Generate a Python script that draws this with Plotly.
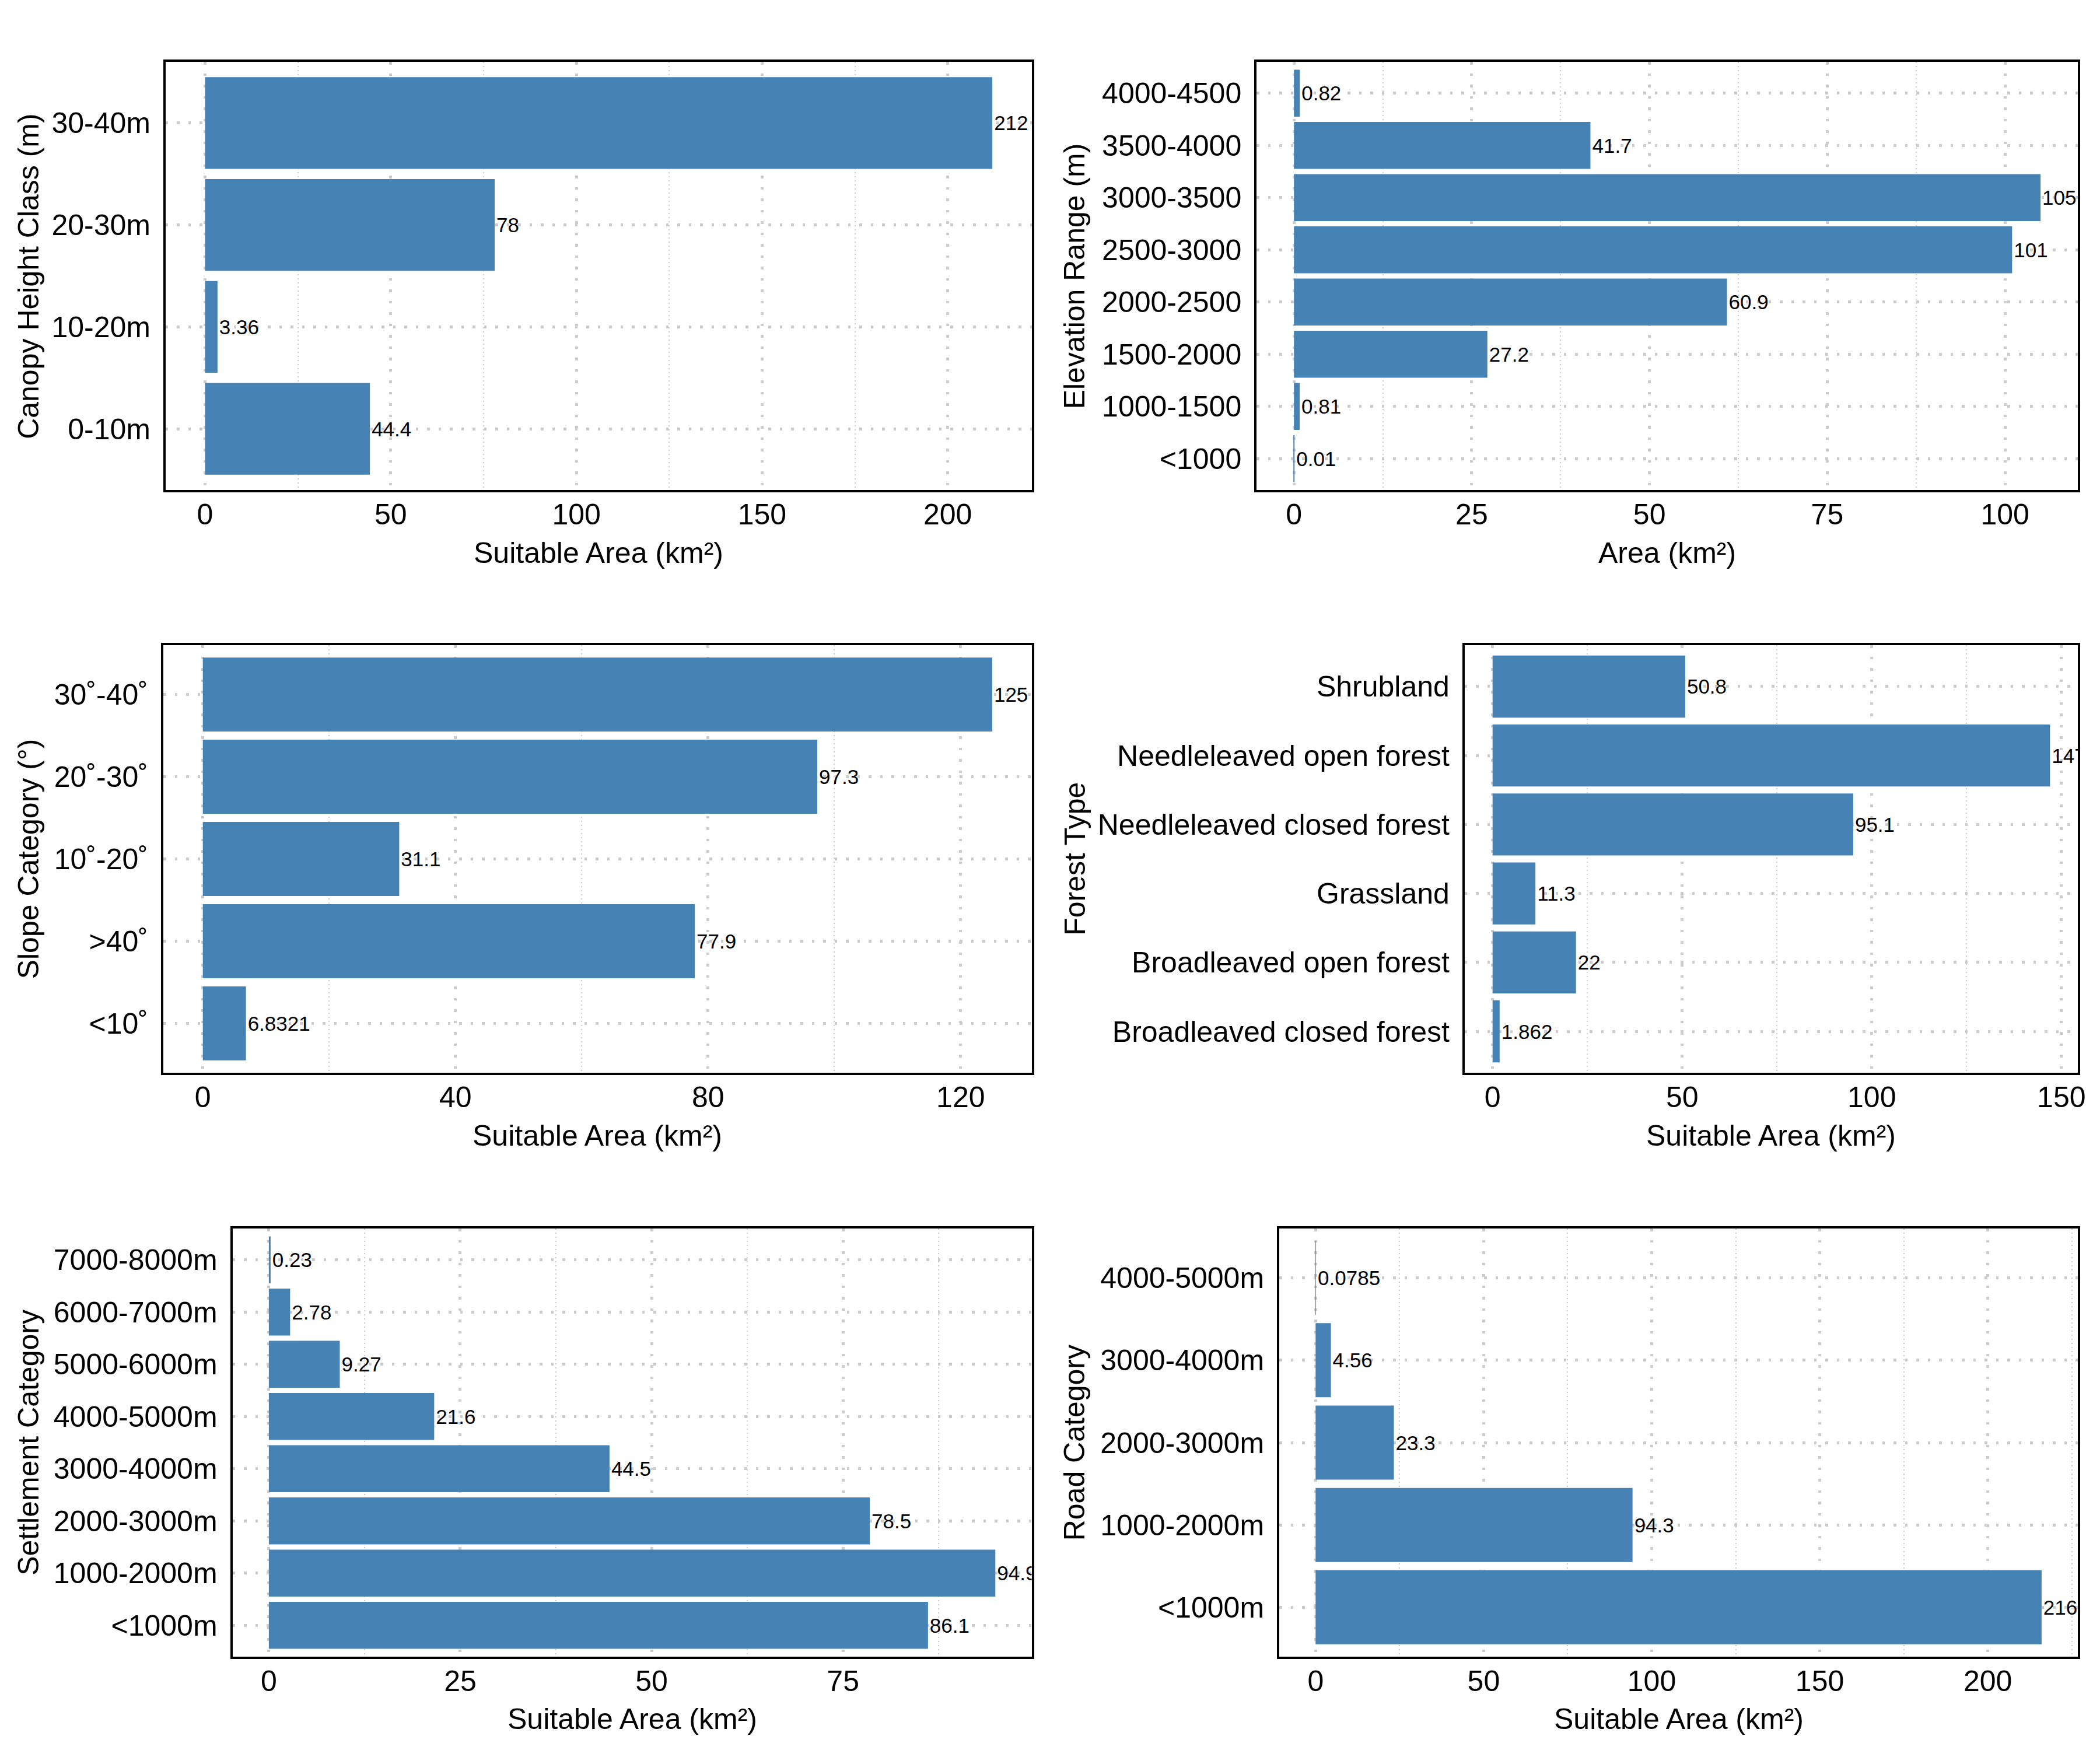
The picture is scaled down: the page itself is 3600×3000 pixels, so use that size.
import plotly.graph_objects as go

# ---------------- data ----------------
canopy_cats = ["0-10m", "10-20m", "20-30m", "30-40m"]
canopy_vals = [44.4, 3.36, 78, 212]

elev_cats = ["<1000", "1000-1500", "1500-2000", "2000-2500", "2500-3000",
             "3000-3500", "3500-4000", "4000-4500"]
elev_vals = [0.01, 0.81, 27.2, 60.9, 101, 105, 41.7, 0.82]

slope_cats = ["<10˚", ">40˚", "10˚-20˚", "20˚-30˚", "30˚-40˚"]
slope_vals = [6.8321, 77.9, 31.1, 97.3, 125]

forest_cats = ["Broadleaved closed forest", "Broadleaved open forest", "Grassland",
               "Needleleaved closed forest", "Needleleaved open forest", "Shrubland"]
forest_vals = [1.862, 22, 11.3, 95.1, 147, 50.8]

settle_cats = ["<1000m", "1000-2000m", "2000-3000m", "3000-4000m", "4000-5000m",
               "5000-6000m", "6000-7000m", "7000-8000m"]
settle_vals = [86.1, 94.9, 78.5, 44.5, 21.6, 9.27, 2.78, 0.23]

road_cats = ["<1000m", "1000-2000m", "2000-3000m", "3000-4000m", "4000-5000m"]
road_vals = [216, 94.3, 23.3, 4.56, 0.0785]

x_titles = ["Suitable Area (km²)", "Area (km²)", "Suitable Area (km²)",
            "Suitable Area (km²)", "Suitable Area (km²)", "Suitable Area (km²)"]
y_titles = ["Canopy Height Class (m)", "Elevation Range (m)", "Slope Category (°)",
            "Forest Type", "Settlement Category", "Road Category"]
x_dticks = [50, 25, 40, 50, 25, 50]

panels = [
    (canopy_cats, canopy_vals),
    (elev_cats, elev_vals),
    (slope_cats, slope_vals),
    (forest_cats, forest_vals),
    (settle_cats, settle_vals),
    (road_cats, road_vals),
]

# ---------------- layout geometry ----------------
# page coordinates (px) of the reference; the html body adds an 8px margin
OFF = 8
DX = 4
W, H = 3600 - OFF, 3000 - OFF
boxes = [  # left, right, top, bottom (page px)
    (281, 1771, 106, 840),
    (2158, 3571, 106, 840),
    (277, 1771, 1106, 1839),
    (2516, 3571, 1106, 1839),
    (396, 1771, 2106, 2840),
    (2197, 3571, 2106, 2840),
]
ytitle_x = [45, 1845, 45, 1845, 45, 1845]
xtitle_y = [948, 948, 1947, 1947, 2947, 2947]

FONT = "Arial, Liberation Sans, sans-serif"
BAR = "#4682B4"
GRID = "#CCCCCC"


def px_x(v):
    return (v + DX - OFF) / W


def px_y(v):
    return 1 - (v - OFF) / H


fig = go.Figure()
annotations = []

for i, ((cats, vals), (l, r, t, b)) in enumerate(zip(panels, boxes)):
    n = i + 1
    xa = "x" if n == 1 else f"x{n}"
    ya = "y" if n == 1 else f"y{n}"
    fig.add_trace(go.Bar(
        x=vals, y=cats, orientation="h",
        marker=dict(color=BAR, line=dict(width=0)),
        text=[f"{v:g}" for v in vals],
        textposition="outside",
        textfont=dict(family=FONT, size=35, color="black"),
        constraintext="none",
        cliponaxis=True,
        xaxis=xa, yaxis=ya,
        showlegend=False,
        hoverinfo="skip",
    ))
    vmax = max(vals)
    xr = [-0.05 * vmax, 1.05 * vmax]
    axis_common = dict(
        showline=True, linecolor="black", linewidth=4, mirror=True,
        tickfont=dict(family=FONT, size=50, color="black"),
        zeroline=False,
    )
    fig.layout[f"xaxis{'' if n == 1 else n}"] = dict(
        domain=[px_x(l), min(px_x(r), 1.0)], anchor=ya, range=xr,
        tickmode="linear", tick0=0, dtick=x_dticks[i],
        showgrid=True, gridcolor=GRID, gridwidth=4.5, griddash="4.5px,15px",
        minor=dict(showgrid=True, gridcolor=GRID, gridwidth=2, griddash="2px,5px",
                   dtick=x_dticks[i] / 2, tick0=0),
        ticks="", ticklabelstandoff=-5,
        **axis_common,
    )
    fig.layout[f"yaxis{'' if n == 1 else n}"] = dict(
        domain=[px_y(b), px_y(t)], anchor=xa,
        type="category", categoryorder="array", categoryarray=cats,
        range=[-0.6, len(cats) - 1 + 0.6],
        showgrid=True, gridcolor=GRID, gridwidth=4.5, griddash="4.5px,15px",
        ticks="outside", ticklen=12, tickcolor="rgba(0,0,0,0)",
        **axis_common,
    )
    annotations.append(dict(
        text=x_titles[i], xref="paper", yref="paper",
        x=px_x((l + r) / 2), y=px_y(xtitle_y[i]),
        xanchor="center", yanchor="middle", showarrow=False,
        font=dict(family=FONT, size=50, color="black"),
    ))
    annotations.append(dict(
        text=y_titles[i], xref="paper", yref="paper",
        x=px_x(ytitle_x[i]), y=px_y((t + b) / 2),
        xanchor="center", yanchor="middle", showarrow=False, textangle=-90,
        font=dict(family=FONT, size=50, color="black"),
    ))

fig.update_layout(
    width=W, height=H,
    margin=dict(l=0, r=0, t=0, b=0),
    paper_bgcolor="white", plot_bgcolor="white",
    bargap=0.1,
    annotations=annotations,
    font=dict(family=FONT, color="black"),
)

fig.write_html("out.html")
